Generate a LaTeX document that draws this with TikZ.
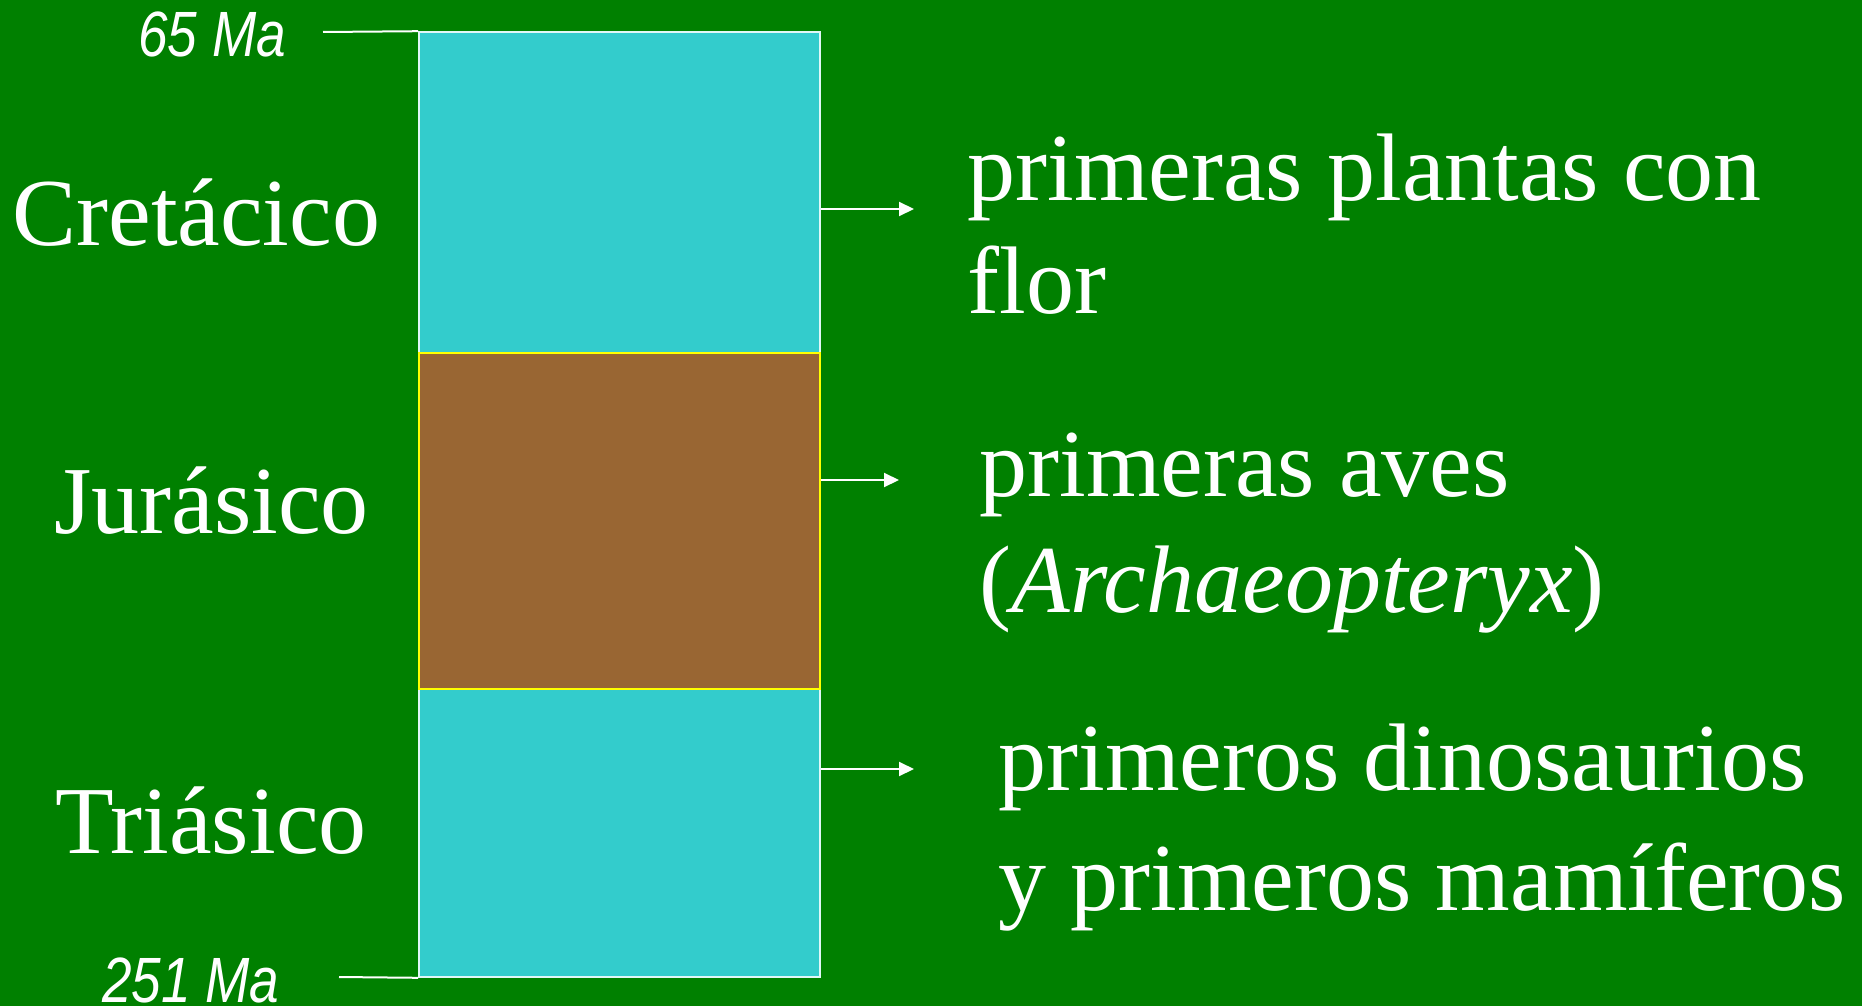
\documentclass[tikz,border=0pt]{standalone}
\usepackage{fontspec}
\setmainfont{Liberation Serif}
\newfontfamily\fnarrow[FakeStretch=0.83]{Liberation Sans}
\usetikzlibrary{arrows.meta}
\definecolor{bgreen}{HTML}{008000}
\definecolor{pcyan}{HTML}{33CCCC}
\definecolor{pbrown}{HTML}{996633}
\definecolor{pyellow}{HTML}{FFFF00}
\tikzset{
  period/.style={rectangle, inner sep=0pt, minimum width=200.5pt},
  cyanbox/.style={period, fill=pcyan, draw=white!85!pcyan, line width=0.8pt},
  brownbox/.style={period, fill=pbrown, draw=pyellow, line width=1pt},
  eralabel/.style={anchor=base west, inner sep=0pt, text=white, font=\fontsize{48}{55}\selectfont},
  agelabel/.style={anchor=base west, inner sep=0pt, text=white, font=\fnarrow\itshape\fontsize{32}{36}\selectfont},
  notelabel/.style={anchor=base west, inner sep=0pt, text=white},
  tick/.style={draw=white, line width=1pt},
  arr/.style={draw=white, line width=1pt, -{Triangle[length=7.5pt,width=7pt]}}
}
\begin{document}
\begin{tikzpicture}[x=0.5pt,y=-0.5pt]
\useasboundingbox[fill=bgreen] (0,0) rectangle (1862,1006);
% period boxes
\node[cyanbox, minimum height=160.5pt] (cret) at (619.5,192.5) {};
\node[cyanbox, minimum height=144pt] (tri) at (619.5,833) {};
\node[brownbox, minimum height=168pt] (jur) at (619.5,521) {};
% era names
\node[eralabel] (lcret) at (12,245) {Cretácico};
\node[eralabel] (ljur) at (54,533) {Jurásico};
\node[eralabel] (ltri) at (55,853) {Triásico};
% ages
\node[agelabel] (a65) at (138,57) {65 Ma};
\node[agelabel] (a251) at (102,1002) {251 Ma};
\coordinate (t65) at (323,32);
\coordinate (t251) at (339,977);
\draw[tick] (t65) -- (cret.north west);
\draw[tick] (t251) -- (tri.south west);
% arrows
\coordinate (p1) at (914,209);
\coordinate (p2) at (899,480);
\coordinate (p3) at (914,769);
\draw[arr] (cret.east |- p1) -- (p1);
\draw[arr] (jur.east |- p2) -- (p2);
\draw[arr] (tri.east |- p3) -- (p3);
% notes
\node[notelabel, font=\fontsize{48}{56.5}\selectfont] (n1) at (967,200)
  {\begin{tabular}[t]{@{}l@{}}primeras plantas con\\flor\end{tabular}};
\node[notelabel, font=\fontsize{48}{58}\selectfont] (n2) at (979,496)
  {\begin{tabular}[t]{@{}l@{}}primeras aves\\(\textit{Archaeopteryx})\end{tabular}};
\node[notelabel, font=\fontsize{48}{60}\selectfont] (n3) at (998,790)
  {\begin{tabular}[t]{@{}l@{}}primeros dinosaurios\\y primeros mamíferos\end{tabular}};
\end{tikzpicture}
\end{document}
